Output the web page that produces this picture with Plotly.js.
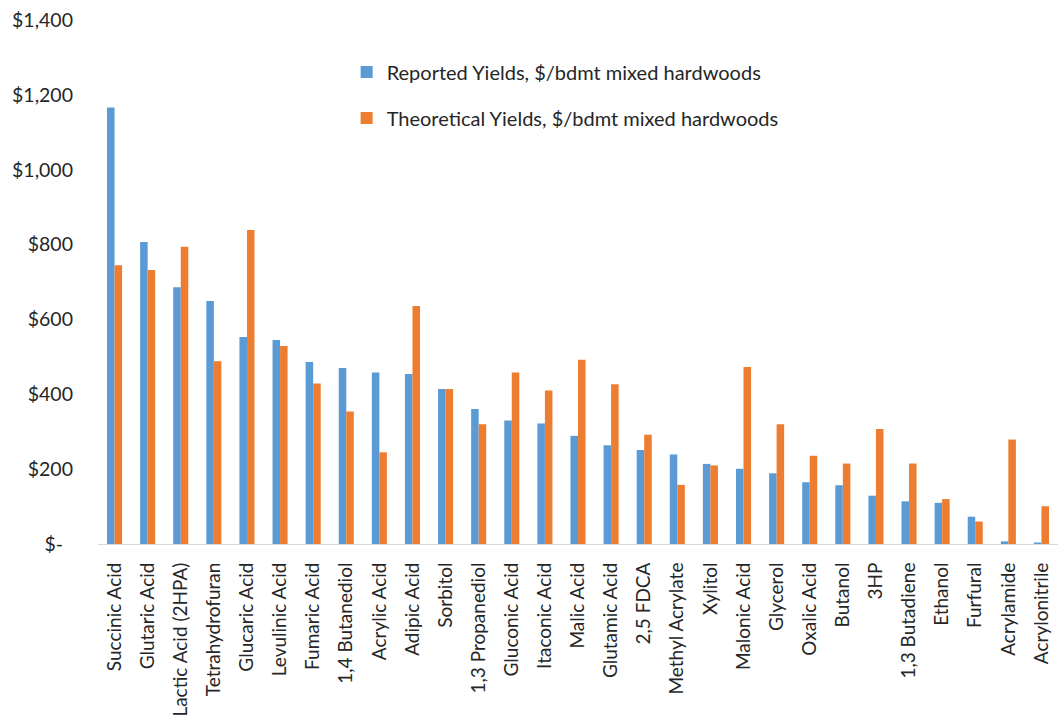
<!DOCTYPE html>
<html>
<head>
<meta charset="utf-8">
<script src="https://cdn.plot.ly/plotly-3.0.1.min.js"></script>
<style>html,body{margin:0;padding:0;background:#fff;}#chart{width:1059px;height:721px;}</style>
</head>
<body>
<div id="chart"></div>
<script>
const categories = ["Succinic Acid","Glutaric Acid","Lactic Acid (2HPA)","Tetrahydrofuran","Glucaric Acid","Levulinic Acid","Fumaric Acid","1,4 Butanediol","Acrylic Acid","Adipic Acid","Sorbitol","1,3 Propanediol","Gluconic Acid","Itaconic Acid","Malic Acid","Glutamic Acid","2,5 FDCA","Methyl Acrylate","Xylitol","Malonic Acid","Glycerol","Oxalic Acid","Butanol","3HP","1,3 Butadiene","Ethanol","Furfural","Acrylamide","Acrylonitrile"];
const reported = [1166,807,686,649,553,545,486,470,458,454,414,361,330,322,289,264,251,239,214,201,189,165,157,129,114,110,73,7,4];
const theoretical = [745,732,794,488,839,529,429,354,245,636,414,320,458,410,492,427,292,158,210,473,320,236,215,307,215,120,60,279,101];
const seriesNames = ["Reported Yields, $/bdmt mixed hardwoods","Theoretical Yields, $/bdmt mixed hardwoods"];
const tickVals = [0,200,400,600,800,1000,1200,1400];
const tickText = ["$-\u00a0\u00a0","$200","$400","$600","$800","$1,000","$1,200","$1,400"];

const yFont = {family: "Lato, 'Open Sans', sans-serif", size: 19.5, color: "#262626"};
const xFont = {family: "Lato, 'Open Sans', sans-serif", size: 19, color: "#262626"};
const legendFont = {family: "Lato, 'Open Sans', sans-serif", size: 20, color: "#262626"};
const data = [
  {type:"bar", x:categories, y:reported, name:seriesNames[0], legendgroup:"a", marker:{color:"#5B9BD5"}},
  {type:"bar", x:categories, y:theoretical, name:seriesNames[1], legendgroup:"b", marker:{color:"#ED7D31"}}
];
const layout = {
  width:1059, height:721,
  margin:{l:98, r:1, t:20, b:177},
  paper_bgcolor:"#fff", plot_bgcolor:"#fff",
  font: yFont,
  barmode:"group", bargap:0.545, bargroupgap:0,
  showlegend:true,
  legend:{x:0.259, y:0.938, xanchor:"left", yanchor:"top", bgcolor:"rgba(0,0,0,0)", tracegroupgap:17, font:legendFont},
  xaxis:{type:"category", tickangle:-90, showgrid:false, showline:true, linecolor:"#d9d9d9", linewidth:1, ticks:"", ticklabelstandoff:10, tickfont:xFont, zeroline:false},
  yaxis:{range:[0,1400], tickvals:tickVals, ticktext:tickText, showgrid:false, showline:false, zeroline:false, ticks:"", ticklabelstandoff:24, tickfont:yFont}
};
Plotly.newPlot("chart", data, layout, {displayModeBar:false, staticPlot:true});
</script>
</body>
</html>
